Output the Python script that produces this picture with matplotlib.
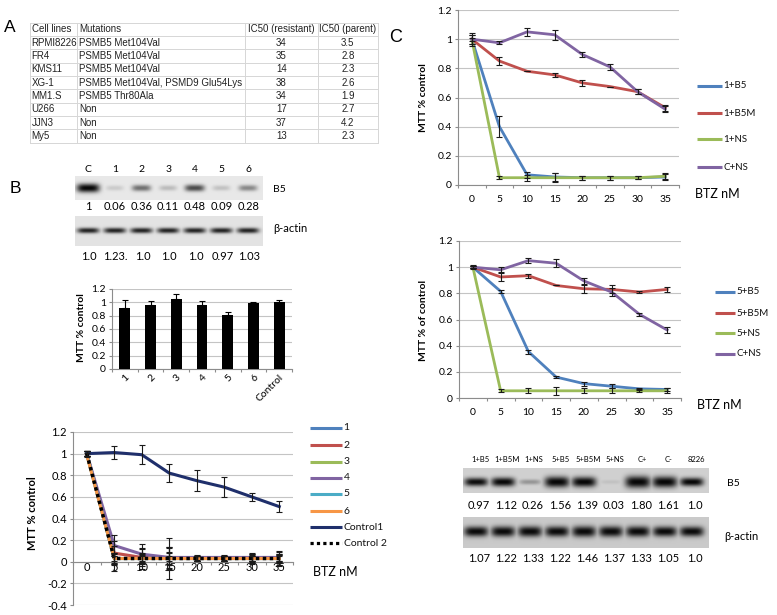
import numpy as np
import matplotlib
matplotlib.use("Agg")
import matplotlib.pyplot as plt

W, H = 777, 615
FONT = ['Lato', 'DejaVu Sans']
TFONT = ['Liberation Sans', 'DejaVu Sans']
plt.rcParams['font.family'] = FONT

# ---------------- Panel A: table ----------------
table_header = ["Cell lines", "Mutations", "IC50 (resistant)", "IC50 (parent)"]
cell_lines = ["RPMI8226", "FR4", "KMS11", "XG-1", "MM1.S", "U266", "JJN3", "My5"]
mutations = ["PSMB5 Met104Val", "PSMB5 Met104Val", "PSMB5 Met104Val",
             "PSMB5 Met104Val, PSMD9 Glu54Lys", "PSMB5 Thr80Ala", "Non", "Non", "Non"]
ic50_resistant = ["34", "35", "14", "38", "34", "17", "37", "13"]
ic50_parent = ["3.5", "2.8", "2.3", "2.6", "1.9", "2.7", "4.2", "2.3"]

# ---------------- Panel B: blot ----------------
blotB_lanes = ["C", "1", "2", "3", "4", "5", "6"]
blotB_b5 = ["1", "0.06", "0.36", "0.11", "0.48", "0.09", "0.28"]
blotB_actin = ["1.0", "1.23.", "1.0", "1.0", "1.0", "0.97", "1.03"]

# ---------------- Panel B: bar chart ----------------
bar_labels = ["1", "2", "3", "4", "5", "6", "Control"]
bar_values = [0.92, 0.96, 1.045, 0.955, 0.81, 0.985, 1.0]
bar_errors = [0.11, 0.065, 0.08, 0.07, 0.05, 0.025, 0.035]

# ---------------- Panel B: line chart ----------------
btz = ["0", "5", "10", "15", "20", "25", "30", "35"]
bl_names = ["1", "2", "3", "4", "5", "6", "Control1", "Control 2"]
bl_s1 = [1.0, 0.03, 0.03, 0.03, 0.03, 0.03, 0.03, 0.03]
bl_s2 = [1.0, 0.08, 0.04, 0.03, 0.03, 0.03, 0.03, 0.03]
bl_s3 = [1.0, 0.03, 0.03, 0.03, 0.03, 0.03, 0.03, 0.03]
bl_s4 = [1.0, 0.15, 0.07, 0.04, 0.04, 0.04, 0.04, 0.04]
bl_s5 = [1.0, 0.03, 0.03, 0.03, 0.03, 0.03, 0.03, 0.03]
bl_s6 = [0.99, 0.03, 0.03, 0.03, 0.03, 0.03, 0.03, 0.03]
bl_c1 = [1.0, 1.01, 0.99, 0.82, 0.75, 0.69, 0.60, 0.51]
bl_c2 = [1.0, 0.03, 0.03, 0.03, 0.03, 0.03, 0.03, 0.03]
bl_e1 = [0.02, 0.12, 0.10, 0.10, 0.02, 0.02, 0.03, 0.03]
bl_e2 = [0.02, 0.11, 0.08, 0.05, 0.02, 0.02, 0.05, 0.07]
bl_e3 = [0.02, 0.05, 0.05, 0.11, 0.02, 0.02, 0.04, 0.04]
bl_e4 = [0.02, 0.10, 0.09, 0.10, 0.02, 0.02, 0.03, 0.03]
bl_e5 = [0.02, 0.05, 0.04, 0.19, 0.02, 0.02, 0.02, 0.06]
bl_e6 = [0.02, 0.04, 0.03, 0.06, 0.02, 0.02, 0.02, 0.03]
bl_ec1 = [0.02, 0.06, 0.09, 0.085, 0.095, 0.09, 0.04, 0.05]
bl_ec2 = [0.02, 0.02, 0.02, 0.02, 0.02, 0.02, 0.02, 0.02]

# ---------------- Panel C: top chart ----------------
c1_names = ["1+B5", "1+B5M", "1+NS", "C+NS"]
c1_b5 = [1.0, 0.40, 0.07, 0.055, 0.05, 0.05, 0.05, 0.055]
c1_b5m = [1.0, 0.85, 0.78, 0.755, 0.70, 0.675, 0.64, 0.53]
c1_ns = [1.0, 0.05, 0.05, 0.05, 0.05, 0.05, 0.05, 0.06]
c1_cns = [1.0, 0.975, 1.05, 1.03, 0.895, 0.81, 0.64, 0.52]
c1_e_b5 = [0.03, 0.07, 0.02, 0.03, 0.015, 0.015, 0.01, 0.02]
c1_e_b5m = [0.03, 0.025, 0.0, 0.015, 0.02, 0.0, 0.015, 0.02]
c1_e_ns = [0.01, 0.01, 0.02, 0.03, 0.015, 0.015, 0.01, 0.02]
c1_e_cns = [0.045, 0.01, 0.025, 0.035, 0.02, 0.02, 0.015, 0.02]

# ---------------- Panel C: middle chart ----------------
c5_names = ["5+B5", "5+B5M", "5+NS", "C+NS"]
c5_b5 = [1.0, 0.815, 0.355, 0.16, 0.11, 0.09, 0.07, 0.065]
c5_b5m = [1.0, 0.925, 0.935, 0.86, 0.835, 0.83, 0.81, 0.83]
c5_ns = [1.0, 0.055, 0.055, 0.055, 0.055, 0.055, 0.055, 0.055]
c5_cns = [1.0, 0.98, 1.05, 1.03, 0.895, 0.81, 0.64, 0.52]
c5_e_b5 = [0.01, 0.01, 0.015, 0.01, 0.015, 0.015, 0.01, 0.015]
c5_e_b5m = [0.015, 0.03, 0.015, 0.0, 0.03, 0.03, 0.005, 0.02]
c5_e_ns = [0.01, 0.01, 0.02, 0.03, 0.02, 0.02, 0.01, 0.02]
c5_e_cns = [0.01, 0.02, 0.02, 0.03, 0.025, 0.03, 0.01, 0.02]

# ---------------- Panel C: blot ----------------
blotC_lanes = ["1+B5", "1+B5M", "1+NS", "5+B5", "5+B5M", "5+NS", "C+", "C-", "8226"]
blotC_b5 = ["0.97", "1.12", "0.26", "1.56", "1.39", "0.03", "1.80", "1.61", "1.0"]
blotC_actin = ["1.07", "1.22", "1.33", "1.22", "1.46", "1.37", "1.33", "1.05", "1.0"]

C_BLUE, C_RED, C_GREEN, C_PURPLE = '#4F81BD', '#C0504D', '#9BBB59', '#8064A2'
C_CYAN, C_ORANGE, C_NAVY = '#4BACC6', '#F79646', '#1F2F6B'
GRID = '#c4c4c4'
AXC = '#8c8c8c'

fig = plt.figure(figsize=(W / 100, H / 100), dpi=100)
fig.patch.set_facecolor('white')

ov = fig.add_axes([0, 0, 1, 1], zorder=5)
ov.set_xlim(0, W)
ov.set_ylim(H, 0)
ov.set_autoscale_on(False)
ov.axis('off')


def px_axes(x0, y0, x1, y1):
    return fig.add_axes([x0 / W, 1 - y1 / H, (x1 - x0) / W, (y1 - y0) / H])


def excel_style(ax, cats, ylim, ystep, label_pad, tick_size=7.5):
    n = len(cats)
    ax.set_xlim(-0.5, n - 0.5)
    ax.set_ylim(*ylim)
    yt = np.round(np.arange(ylim[0], ylim[1] + 1e-9, ystep), 2)
    ax.set_yticks(yt)
    ax.set_yticklabels([f"{v:g}" for v in yt])
    ax.yaxis.grid(True, color=GRID, lw=0.8)
    ax.set_axisbelow(True)
    for s in ['top', 'right']:
        ax.spines[s].set_visible(False)
    for s in ['left', 'bottom']:
        ax.spines[s].set_color(AXC)
        ax.spines[s].set_linewidth(0.8)
    ax.set_xticks(np.arange(n))
    ax.set_xticklabels(cats)
    ax.set_xticks(np.arange(n + 1) - 0.5, minor=True)
    ax.tick_params(axis='x', which='major', length=0, pad=label_pad, labelsize=tick_size)
    ax.tick_params(axis='x', which='minor', length=2.5, color=AXC, width=0.8)
    ax.tick_params(axis='y', length=2.5, color=AXC, width=0.8, labelsize=tick_size, pad=2)
    ax.patch.set_alpha(0)


def draw_series(ax, vals, errs, color, dotted=False, lw=2.0, cap=2.2):
    x = np.arange(len(vals))
    if dotted:
        ax.plot(x, vals, color=color, lw=lw + 0.3, ls=(0, (1, 1)), zorder=3)
    else:
        ax.plot(x, vals, color=color, lw=lw, zorder=3, solid_joinstyle='round')
    ax.errorbar(x, vals, yerr=errs, fmt='none', ecolor='#1a1a1a', elinewidth=0.8,
                capsize=cap, capthick=0.8, zorder=4)


def legend_items(x0, x1, ys, names, colors, size=7.5, dotted_idx=()):
    for i, (y, nm, c) in enumerate(zip(ys, names, colors)):
        if i in dotted_idx:
            ov.plot([x0, x1], [y, y], color=c, lw=2.3, ls=(0, (1, 1)))
        else:
            ov.plot([x0, x1], [y, y], color=c, lw=2.2, solid_capstyle='butt')
        ov.text(x1 + 1.5, y, nm, ha='left', va='center', fontsize=size, color='#111111')


def draw_blot(x0, y0, x1, y1, bg, centers, band_y, vals, wfun, hfun, afun):
    nx, ny = int((x1 - x0) * 2), int((y1 - y0) * 2)
    X, Y = np.meshgrid(np.linspace(x0, x1, nx), np.linspace(y0, y1, ny))
    dark = np.zeros_like(X)
    for cx, v in zip(centers, vals):
        w, h, a = wfun(v), hfun(v), afun(v)
        prof = np.exp(-np.abs((X - cx) / (w / 2)) ** 4 - np.abs((Y - band_y) / (h / 2)) ** 2.2)
        dark = np.maximum(dark, a * prof)
    img = bg * (1 - dark)
    ov.imshow(img, extent=(x0, x1, y1, y0), cmap='gray', vmin=0, vmax=1,
              interpolation='bilinear', aspect='auto', zorder=1)


# ================= Panel A =================
ov.text(10, 28, "A", fontsize=12.5, family=TFONT, ha='center', va='center')
col_x = [30, 77.3, 245, 317.7, 378]
row_top, row_h = 22.7, 13.33
n_rows = len(cell_lines) + 1
for k in range(n_rows + 1):
    y = row_top + k * row_h
    ov.plot([col_x[0], col_x[-1]], [y, y], color='#d6d6d6', lw=0.7)
for x in col_x:
    ov.plot([x, x], [row_top, row_top + n_rows * row_h], color='#d6d6d6', lw=0.7)
rows = [table_header] + [list(r) for r in zip(cell_lines, mutations, ic50_resistant, ic50_parent)]
for i, r in enumerate(rows):
    yc = row_top + (i + 0.5) * row_h
    for j, txt in enumerate(r):
        if j < 2:
            ov.text(col_x[j] + 1.5, yc, txt, ha='left', va='center', fontsize=7.0,
                    family=TFONT, color='#222222')
        else:
            ov.text((col_x[j] + col_x[j + 1]) / 2, yc, txt, ha='center', va='center',
                    fontsize=7.0, family=TFONT, color='#222222')

# ================= Panel B blot =================
ov.text(15.5, 188.5, "B", fontsize=12.5, family=TFONT, ha='center', va='center')
lanesB = [88 + 26.7 * i for i in range(len(blotB_lanes))]
b5B_vals = [float(s.strip('.')) for s in blotB_b5]
actB_vals = [float(s.strip('.')) for s in blotB_actin]
draw_blot(75, 176, 263, 200, 0.91, lanesB, 188, b5B_vals,
          lambda v: 17 + 6 * v, lambda v: 5 + 4 * v, lambda v: min(0.97, 0.05 + 1.3 * v))
draw_blot(75, 216, 263, 246, 0.89, lanesB, 230.5, actB_vals,
          lambda v: 22, lambda v: 5.5, lambda v: 0.85)
for cx, lab, t1, t2 in zip(lanesB, blotB_lanes, blotB_b5, blotB_actin):
    ov.text(cx, 170, lab, ha='center', va='center', fontsize=7.5)
    ov.text(cx, 206.5, t1, ha='center', va='center', fontsize=8)
    ov.text(cx + 1, 257, t2, ha='center', va='center', fontsize=8)
ov.text(273, 190, "B5", ha='left', va='center', fontsize=7.5)
ov.text(273, 229, "β-actin", ha='left', va='center', fontsize=8)

# ================= Panel B bar chart =================
axb = px_axes(112, 289, 292, 369)
excel_style(axb, bar_labels, (0, 1.2), 0.2, label_pad=3, tick_size=7.5)
xb = np.arange(len(bar_values))
axb.bar(xb, bar_values, width=0.42, color='black', zorder=3)
axb.errorbar(xb, bar_values, yerr=[np.zeros(len(bar_errors)), bar_errors], fmt='none',
             ecolor='black', elinewidth=0.8, capsize=2.2, capthick=0.8, zorder=4)
for lab in axb.get_xticklabels():
    lab.set_rotation(45)
    lab.set_ha('right')
    lab.set_va('top')
    lab.set_rotation_mode('anchor')
ov.text(81, 328, "MTT % control", rotation=90, ha='center', va='center',
        fontsize=7.5, fontweight='bold')

# ================= Panel B line chart =================
axl = px_axes(73, 432, 293, 605)
excel_style(axl, btz, (-0.4, 1.2), 0.2, label_pad=0.5, tick_size=8)
axl.spines['bottom'].set_position(('data', 0))
bl_vals = [bl_s1, bl_s2, bl_s3, bl_s4, bl_s5, bl_s6, bl_c1, bl_c2]
bl_errs = [bl_e1, bl_e2, bl_e3, bl_e4, bl_e5, bl_e6, bl_ec1, bl_ec2]
bl_cols = [C_BLUE, C_RED, C_GREEN, C_PURPLE, C_CYAN, C_ORANGE, C_NAVY, 'black']
for i, (v, e, c) in enumerate(zip(bl_vals, bl_errs, bl_cols)):
    draw_series(axl, v, e, c, dotted=(i == 7), lw=2.2, cap=2.0)
ov.text(33, 513, "MTT % control", rotation=90, ha='center', va='center',
        fontsize=8, fontweight='bold')
legend_items(310, 342, [428, 445, 462, 478, 494, 511, 527, 543], bl_names, bl_cols,
             size=7.5, dotted_idx=(7,))
ov.text(313, 572, "BTZ nM", ha='left', va='center', fontsize=9)

# ================= Panel C top =================
ov.text(396, 38, "C", fontsize=13, family=TFONT, ha='center', va='center')
axc1 = px_axes(458, 10, 679, 185)
excel_style(axc1, btz, (0, 1.2), 0.2, label_pad=7, tick_size=7.5)
c_cols = [C_BLUE, C_RED, C_GREEN, C_PURPLE]
for v, e, c in zip([c1_b5, c1_b5m, c1_ns, c1_cns], [c1_e_b5, c1_e_b5m, c1_e_ns, c1_e_cns], c_cols):
    draw_series(axc1, v, e, c, lw=2.0, cap=2.3)
ov.text(423, 98, "MTT % control", rotation=90, ha='center', va='center',
        fontsize=7.5, fontweight='bold')
legend_items(697, 722, [86, 113, 139, 167], c1_names, c_cols, size=7)
ov.text(695, 194, "BTZ nM", ha='left', va='center', fontsize=9)

# ================= Panel C middle =================
axc2 = px_axes(459, 241, 681, 398)
excel_style(axc2, btz, (0, 1.2), 0.2, label_pad=7, tick_size=7.5)
for v, e, c in zip([c5_b5, c5_b5m, c5_ns, c5_cns], [c5_e_b5, c5_e_b5m, c5_e_ns, c5_e_cns], c_cols):
    draw_series(axc2, v, e, c, lw=2.0, cap=2.3)
ov.text(423, 320, "MTT % of control", rotation=90, ha='center', va='center',
        fontsize=7.5, fontweight='bold')
legend_items(715, 735, [292, 313, 333, 354], c5_names, c_cols, size=7)
ov.text(697, 405, "BTZ nM", ha='left', va='center', fontsize=9)

# ================= Panel C blot =================
lanesC = [479 + 27.0 * i for i in range(len(blotC_lanes))]
b5C_vals = [float(s) for s in blotC_b5]
actC_vals = [float(s) for s in blotC_actin]
draw_blot(463, 468, 709, 493, 0.82, [c - 3 for c in lanesC], 482, b5C_vals,
          lambda v: 21 + 2.5 * v, lambda v: 4 + 4.5 * v, lambda v: min(0.97, 0.05 + 0.92 * v))
draw_blot(463, 517, 709, 548, 0.79, [c - 3 for c in lanesC], 531.5, actC_vals,
          lambda v: 24, lambda v: 8 + 2 * v, lambda v: 0.95)
for cx, lab, t1, t2 in zip(lanesC, blotC_lanes, blotC_b5, blotC_actin):
    ov.text(cx + 1, 459, lab, ha='center', va='center', fontsize=5.5)
    ov.text(cx, 505.5, t1, ha='center', va='center', fontsize=8)
    ov.text(cx, 558, t2, ha='center', va='center', fontsize=8)
ov.text(727, 483, "B5", ha='left', va='center', fontsize=7.5)
ov.text(724, 537, "β-actin", ha='left', va='center', fontsize=8)

ov.set_xlim(0, W)
ov.set_ylim(H, 0)
fig.savefig("out.png", dpi=100, facecolor='white')
